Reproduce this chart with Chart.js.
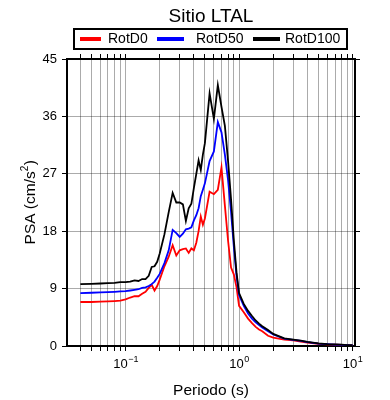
<!DOCTYPE html>
<html>
<head>
<meta charset="utf-8">
<script src="https://cdn.jsdelivr.net/npm/chart.js@4.4.1/dist/chart.umd.min.js"></script>
<style>
  html, body { margin: 0; padding: 0; background: #fff; }
  #wrap { width: 390px; height: 400px; }
</style>
</head>
<body>
<div id="wrap"><canvas id="chart" width="390" height="400"></canvas></div>
<script>
'use strict';

// periods (s)
var periods = [0.04, 0.05, 0.06, 0.07, 0.08, 0.09, 0.1, 0.11, 0.12, 0.13, 0.14, 0.15,
  0.16, 0.17, 0.18, 0.19, 0.2, 0.22, 0.24, 0.26, 0.28, 0.3, 0.32, 0.34, 0.36, 0.38,
  0.4, 0.42, 0.44, 0.46, 0.48, 0.5, 0.55, 0.6, 0.65, 0.7, 0.75, 0.8, 0.85, 0.9, 0.95,
  1.0, 1.1, 1.2, 1.3, 1.4, 1.5, 1.6, 1.8, 2.0, 2.5, 3.0, 3.5, 4.0, 5.0, 6.0, 7.0,
  8.0, 9.0, 10.0];

// PSA (cm/s2) per component
var rotD0 = [6.9, 6.9, 6.95, 7.0, 7.05, 7.1, 7.3, 7.6, 7.8, 7.8, 8.2, 8.5,
  9.1, 9.6, 8.7, 9.4, 10.4, 12.5, 14.0, 15.8, 14.2, 15.0, 15.2, 15.3, 14.6, 15.3,
  15.0, 16.2, 18.0, 20.3, 19.0, 20.0, 24.2, 23.8, 24.5, 28.0, 22.0, 16.5, 12.3, 11.2, 9.2,
  6.3, 5.3, 4.3, 3.6, 3.0, 2.6, 2.3, 1.6, 1.3, 1.0, 0.9, 0.7, 0.55, 0.35, 0.25, 0.2,
  0.16, 0.13, 0.1];

var rotD50 = [8.3, 8.35, 8.4, 8.45, 8.5, 8.55, 8.6, 8.7, 8.8, 8.9, 9.1, 9.2,
  9.4, 9.7, 10.1, 10.7, 11.3, 13.0, 15.0, 18.2, 17.7, 17.1, 17.6, 18.3, 18.4, 18.6,
  19.7, 20.5, 21.6, 23.5, 24.5, 25.5, 29.0, 30.5, 35.1, 33.5, 30.0, 26.0, 21.0, 15.5, 11.0,
  8.0, 6.3, 5.1, 4.3, 3.7, 3.3, 2.9, 2.3, 1.8, 1.15, 0.95, 0.8, 0.6, 0.38, 0.28, 0.22,
  0.18, 0.14, 0.11];

var rotD100 = [9.7, 9.75, 9.8, 9.85, 9.9, 10.0, 10.0, 10.1, 10.3, 10.2, 10.5, 10.5,
  11.0, 12.4, 12.5, 13.2, 14.5, 17.5, 21.0, 24.0, 22.5, 22.5, 22.2, 19.6, 21.6, 22.3,
  24.8, 27.0, 29.1, 27.6, 30.0, 31.8, 39.6, 35.6, 40.9, 37.5, 34.5, 29.0, 23.0, 16.5, 11.5,
  8.3, 6.6, 5.5, 4.7, 4.0, 3.5, 3.1, 2.5, 1.9, 1.2, 1.0, 0.85, 0.65, 0.4, 0.3, 0.25,
  0.2, 0.15, 0.12];

var seriesNames = ['RotD0', 'RotD50', 'RotD100'];
var seriesColors = ['#ff0000', '#0000ff', '#000000'];

var xTicks = [0.04, 0.05, 0.06, 0.07, 0.08, 0.09, 0.1, 0.2, 0.3, 0.4, 0.5, 0.6, 0.7,
  0.8, 0.9, 1, 2, 3, 4, 5, 6, 7, 8, 9, 10];
var xDecades = [0.1, 1, 10];
var xExponents = ['\u22121', '0', '1'];
var yTicks = [0, 9, 18, 27, 36, 45];

var FONT = 'Liberation Sans, Arial, Helvetica, sans-serif';

function pairs(ys) {
  return periods.map(function(p, i) { return { x: p, y: ys[i] }; });
}

function setXTicks(scale) {
  scale.ticks = xTicks.map(function(v) { return { value: v }; });
}
function setYTicks(scale) {
  scale.ticks = yTicks.map(function(v) { return { value: v }; });
}

// "10" + raised exponent, centred on x
function drawPower(ctx, base, exp, x, y) {
  ctx.font = '13px ' + FONT;
  var wb = ctx.measureText(base).width;
  ctx.font = '9px ' + FONT;
  var we = ctx.measureText(exp).width;
  var x0 = x - (wb + we) / 2;
  ctx.textAlign = 'left';
  ctx.textBaseline = 'alphabetic';
  ctx.font = '13px ' + FONT;
  ctx.fillText(base, x0, y);
  ctx.font = '9px ' + FONT;
  ctx.fillText(exp, x0 + wb + 0.5, y - 6);
}

// title, boxed legend, decade labels and y title
var textPlugin = {
  id: 'texts',
  afterDraw: function(chart) {
    var ctx = chart.ctx;
    var area = chart.chartArea;
    var cx = (area.left + area.right) / 2;
    ctx.save();
    ctx.fillStyle = '#000';
    ctx.font = '19px ' + FONT;
    ctx.textAlign = 'center';
    ctx.textBaseline = 'alphabetic';
    ctx.fillText('Sitio LTAL', cx, 22);

    ctx.lineWidth = 2;
    ctx.strokeStyle = '#000';
    ctx.strokeRect(74, 29, 273, 20);

    var items = [
      { x0: 80, x1: 101, tx: 108 },
      { x0: 157, x1: 184, tx: 196 },
      { x0: 253, x1: 280, tx: 285 }
    ];
    ctx.font = '14px ' + FONT;
    ctx.textAlign = 'left';
    ctx.textBaseline = 'middle';
    items.forEach(function(it, i) {
      ctx.strokeStyle = seriesColors[i];
      ctx.lineWidth = 4;
      ctx.beginPath();
      ctx.moveTo(it.x0, 39);
      ctx.lineTo(it.x1, 39);
      ctx.stroke();
      ctx.fillStyle = '#000';
      ctx.fillText(seriesNames[i], it.tx, 39.5);
    });

    // decade tick labels
    var xs = chart.scales.x;
    ctx.fillStyle = '#000';
    xDecades.forEach(function(v, i) {
      drawPower(ctx, '10', xExponents[i], xs.getPixelForValue(v), 368);
    });

    // y axis title with superscript
    var yc = (area.top + area.bottom) / 2;
    ctx.translate(35, yc);
    ctx.rotate(-Math.PI / 2);
    ctx.font = '15.5px ' + FONT;
    var main = 'PSA (cm/s';
    var wm = ctx.measureText(main).width;
    ctx.font = '10px ' + FONT;
    var w2 = ctx.measureText('2').width;
    ctx.font = '15.5px ' + FONT;
    var wc = ctx.measureText(')').width;
    var x0 = -(wm + w2 + wc) / 2;
    ctx.textAlign = 'left';
    ctx.textBaseline = 'alphabetic';
    ctx.fillText(main, x0, 0);
    ctx.font = '10px ' + FONT;
    ctx.fillText('2', x0 + wm, -7);
    ctx.font = '15.5px ' + FONT;
    ctx.fillText(')', x0 + wm + w2 + 0.5, 0);
    ctx.restore();
  }
};

var datasets = [rotD0, rotD50, rotD100].map(function(ys, i) {
  return {
    label: seriesNames[i],
    data: pairs(ys),
    borderColor: seriesColors[i],
    backgroundColor: seriesColors[i],
    borderWidth: 1.8,
    pointRadius: 0,
    tension: 0,
    fill: false,
    order: 2 - i
  };
});

var gridColor = 'rgba(0,0,0,0.33)';

new Chart(document.getElementById('chart'), {
  type: 'line',
  data: { datasets: datasets },
  plugins: [textPlugin],
  options: {
    responsive: false,
    animation: false,
    layout: { padding: 0 },
    plugins: {
      legend: { display: false },
      title: { display: false },
      tooltip: { enabled: false }
    },
    scales: {
      x: {
        type: 'logarithmic',
        position: 'bottom',
        min: 0.0305,
        max: 10.5,
        afterBuildTicks: setXTicks,
        afterFit: function(s) { s.height = 54; },
        grid: { color: gridColor, lineWidth: 1, tickColor: '#000', tickLength: 5 },
        border: { color: '#000', width: 2 },
        ticks: {
          autoSkip: false,
          maxRotation: 0,
          callback: function() { return ''; }
        },
        title: {
          display: true,
          text: 'Periodo (s)',
          color: '#000',
          font: { family: FONT, size: 15.5 },
          padding: { top: 10, bottom: 0 }
        }
      },
      x2: {
        type: 'logarithmic',
        position: 'top',
        min: 0.0305,
        max: 10.5,
        afterBuildTicks: setXTicks,
        afterFit: function(s) { s.height = 59; },
        grid: { drawOnChartArea: false, tickColor: '#000', tickLength: 5 },
        border: { color: '#000', width: 2 },
        ticks: { display: false }
      },
      y: {
        type: 'linear',
        position: 'left',
        min: 0,
        max: 45,
        afterBuildTicks: setYTicks,
        afterFit: function(s) { s.width = 67; },
        grid: { color: gridColor, lineWidth: 1, tickColor: '#000', tickLength: 5 },
        border: { color: '#000', width: 2 },
        ticks: {
          padding: 5,
          color: '#000',
          font: { family: FONT, size: 13 }
        }
      },
      y2: {
        type: 'linear',
        position: 'right',
        min: 0,
        max: 45,
        afterBuildTicks: setYTicks,
        afterFit: function(s) { s.width = 35; },
        grid: { drawOnChartArea: false, tickColor: '#000', tickLength: 5 },
        border: { color: '#000', width: 2 },
        ticks: { display: false }
      }
    }
  }
});
</script>
</body>
</html>
